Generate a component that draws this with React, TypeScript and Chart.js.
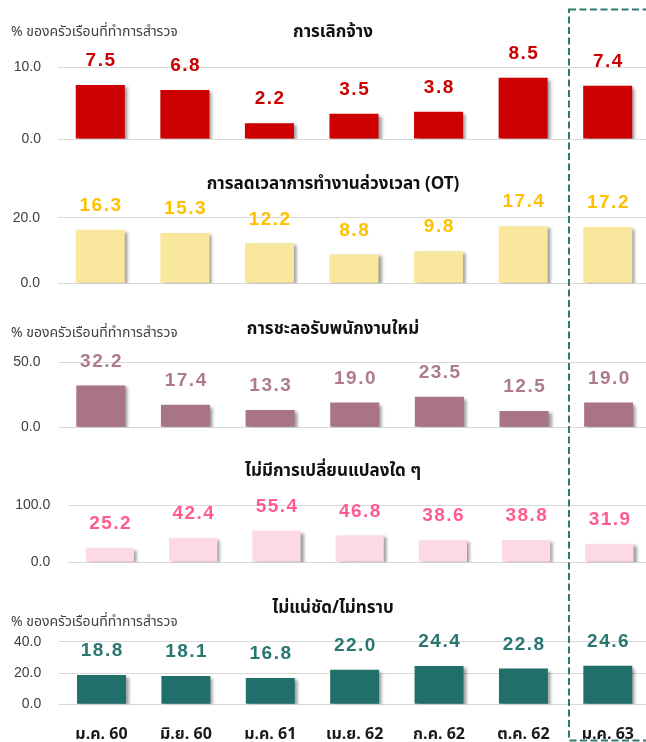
import { useEffect, useRef } from "react";
import { Chart, registerables } from "chart.js";

Chart.register(...registerables);

// ---------- data ----------
const categories = ["ม.ค. 60", "มิ.ย. 60", "ม.ค. 61", "เม.ย. 62", "ก.ค. 62", "ต.ค. 62", "ม.ค. 63"];
const layoffValues = [7.5, 6.8, 2.2, 3.5, 3.8, 8.5, 7.4];
const otCutValues = [16.3, 15.3, 12.2, 8.8, 9.8, 17.4, 17.2];
const hiringFreezeValues = [32.2, 17.4, 13.3, 19.0, 23.5, 12.5, 19.0];
const noChangeValues = [25.2, 42.4, 55.4, 46.8, 38.6, 38.8, 31.9];
const unsureValues = [18.8, 18.1, 16.8, 22.0, 24.4, 22.8, 24.6];

const panelTitles = [
  "การเลิกจ้าง",
  "การลดเวลาการทำงานล่วงเวลา (OT)",
  "การชะลอรับพนักงานใหม่",
  "ไม่มีการเปลี่ยนแปลงใด ๆ",
  "ไม่แน่ชัด/ไม่ทราบ",
];
const unitLabel = "% ของครัวเรือนที่ทำการสำรวจ";
const yMaxes = [10, 20, 50, 100, 40];
const yStepSizes = [10, 20, 50, 100, 20];

// ---------- layout / style ----------
const W = 652;
const H = 742;
const THAI = "Tahoma, 'Noto Sans Thai', 'Leelawadee UI', 'Noto Sans', sans-serif";
const NUM = "'Liberation Sans', Arial, sans-serif";

type Panel = {
  values: number[];
  title: string;
  max: number;
  step: number;
  bar: string;
  label: string;
  left: number;
  right: number;
  top: number;
  bottom: number;
  tickPad: number;
  titleY: number;
  subY: number | null;
};

const panels: Panel[] = [
  { values: layoffValues, title: panelTitles[0], max: yMaxes[0], step: yStepSizes[0], bar: "#CC0000", label: "#CC0000", left: 58, right: 650, top: 67, bottom: 139, tickPad: 17, titleY: 34, subY: 33 },
  { values: otCutValues, title: panelTitles[1], max: yMaxes[1], step: yStepSizes[1], bar: "#F9E79E", label: "#FFC000", left: 58, right: 650, top: 217.7, bottom: 283.3, tickPad: 18, titleY: 186, subY: null },
  { values: hiringFreezeValues, title: panelTitles[2], max: yMaxes[2], step: yStepSizes[2], bar: "#A97586", label: "#AD7B8C", left: 58.5, right: 651, top: 362.3, bottom: 427.3, tickPad: 18, titleY: 331, subY: 334 },
  { values: noChangeValues, title: panelTitles[3], max: yMaxes[3], step: yStepSizes[3], bar: "#FDD9E5", label: "#FF5C8D", left: 68.3, right: 651, top: 505, bottom: 562.3, tickPad: 18, titleY: 473, subY: null },
  { values: unsureValues, title: panelTitles[4], max: yMaxes[4], step: yStepSizes[4], bar: "#216F6A", label: "#2A7670", left: 59.3, right: 650, top: 641.7, bottom: 704.3, tickPad: 18, titleY: 610, subY: 623 },
];

function makePlugin(p: Panel, isLast: boolean) {
  return {
    id: "panelDecor",
    beforeDatasetsDraw(chart: any) {
      const ctx = chart.ctx;
      ctx.save();
      ctx.shadowColor = "rgba(0,0,0,0.38)";
      ctx.shadowOffsetX = 3;
      ctx.shadowOffsetY = 2;
      ctx.shadowBlur = 3;
    },
    afterDatasetsDraw(chart: any) {
      const ctx = chart.ctx;
      ctx.restore();
      const meta = chart.getDatasetMeta(0);
      ctx.save();
      ctx.font = `bold 19px ${NUM}`;
      (ctx as any).letterSpacing = "1.5px";
      ctx.fillStyle = p.label;
      ctx.textAlign = "center";
      ctx.textBaseline = "middle";
      meta.data.forEach((el: any, i: number) => {
        const txt = Number(p.values[i]).toFixed(1);
        ctx.fillText(txt, el.x + 0.75, el.y - 24);
      });
      ctx.restore();
    },
    afterDraw(chart: any) {
      const ctx = chart.ctx;
      ctx.save();
      ctx.fillStyle = "#111111";
      ctx.font = `bold 17px ${THAI}`;
      ctx.textAlign = "center";
      ctx.textBaseline = "middle";
      ctx.fillText(p.title, 333, p.titleY);
      if (p.subY !== null) {
        ctx.font = `14px ${THAI}`;
        ctx.fillStyle = "#404040";
        ctx.textAlign = "left";
        ctx.fillText(unitLabel, 11, p.subY);
      }
      if (isLast) {
        ctx.strokeStyle = "#2E7B70";
        ctx.lineWidth = 2;
        ctx.setLineDash([7, 3.5]);
        ctx.strokeRect(569, 9.5, 200, 731);
      }
      ctx.restore();
    },
  };
}

function PanelChart({ p, isLast }: { p: Panel; isLast: boolean }) {
  const ref = useRef<HTMLCanvasElement>(null);
  useEffect(() => {
    const xScale: any = {
      display: isLast,
      grid: { display: false },
      border: { display: false },
      ticks: {
        autoSkip: false,
        maxRotation: 0,
        padding: 14,
        color: "#1A1A1A",
        font: { family: THAI, size: 16, weight: "bold" },
      },
    };
    if (isLast) {
      xScale.afterFit = (s: any) => {
        s.height = H - p.bottom;
      };
    }
    const chart = new Chart(ref.current as HTMLCanvasElement, {
      type: "bar",
      data: {
        labels: categories,
        datasets: [
          {
            data: p.values,
            backgroundColor: p.bar,
            borderWidth: 0,
            barPercentage: 0.58,
            categoryPercentage: 1,
          },
        ],
      },
      options: {
        responsive: false,
        animation: false,
        devicePixelRatio: 1,
        layout: {
          padding: { left: 0, right: W - p.right, top: p.top, bottom: isLast ? 0 : H - p.bottom },
        },
        plugins: { legend: { display: false }, tooltip: { enabled: false }, title: { display: false } },
        scales: {
          x: xScale,
          y: {
            min: 0,
            max: p.max,
            ticks: {
              stepSize: p.step,
              padding: p.tickPad,
              color: "#404040",
              font: { family: NUM, size: 14 },
              callback: (v: any) => Number(v).toFixed(1),
            },
            grid: { color: "#D9D9D9", lineWidth: 1, drawTicks: false },
            border: { display: false },
            afterFit: (s: any) => {
              s.width = p.left;
            },
          },
        },
      } as any,
      plugins: [makePlugin(p, isLast)],
    });
    return () => chart.destroy();
  }, []);
  return (
    <canvas
      ref={ref}
      width={W}
      height={H}
      style={{ position: "absolute", left: 0, top: 0, width: W, height: H }}
    />
  );
}

export default function App() {
  return (
    <div
      style={{
        position: "absolute",
        left: 0,
        top: 0,
        width: 646,
        height: 742,
        overflow: "hidden",
        background: "#ffffff",
      }}
    >
      {panels.map((p, i) => (
        <PanelChart key={i} p={p} isLast={i === panels.length - 1} />
      ))}
    </div>
  );
}
